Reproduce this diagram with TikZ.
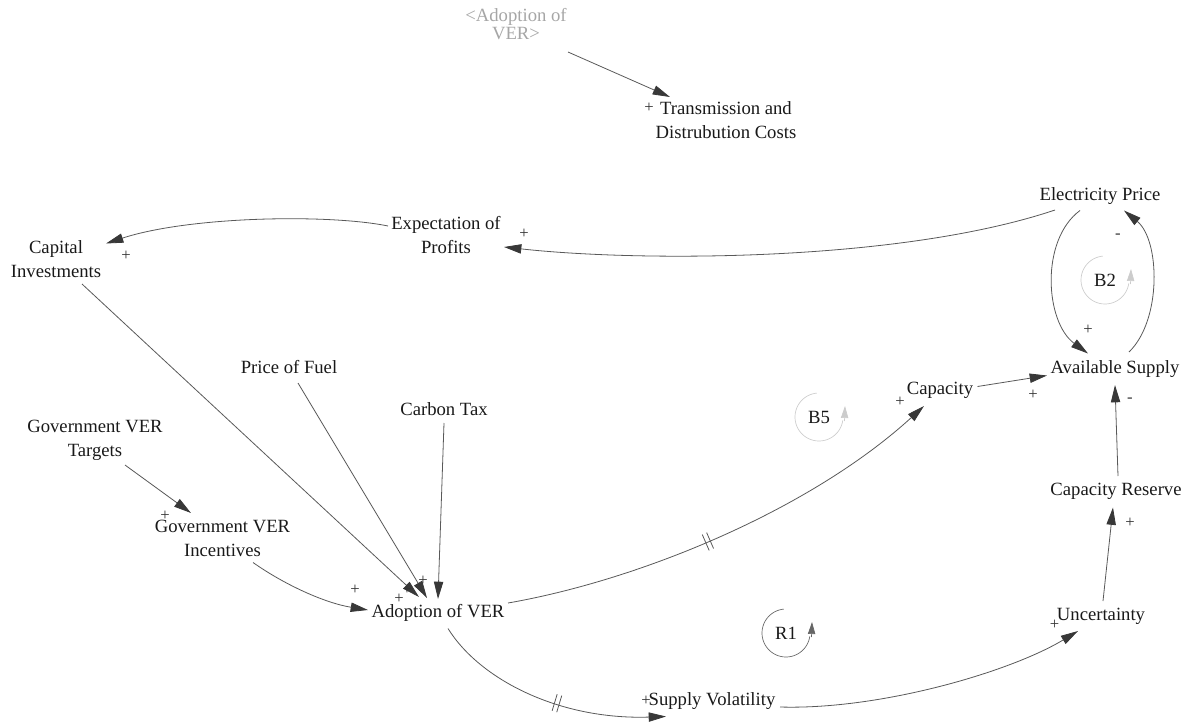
\documentclass[tikz,border=0pt]{standalone}
\usepackage{fontspec}
\setmainfont{Liberation Serif}
\usetikzlibrary{arrows.meta,calc,decorations.markings}

\begin{document}
\begin{tikzpicture}[x=0.75pt,y=-0.75pt,
  var/.style={inner sep=0pt, align=center, text=black!90,
    font=\fontsize{14}{18}\selectfont},
  ghost/.style={inner sep=0pt, align=center, text=black!35,
    font=\fontsize{14}{13.5}\selectfont},
  sign/.style={inner sep=0pt, text=black!80, font=\fontsize{12.5}{13}\selectfont},
  link/.style={draw=black!65, line width=0.6pt,
    -{Triangle[length=13pt,width=7pt,color=black!78]}},
  delay/.style={postaction={decorate}, decoration={markings,
    mark=at position #1 with {\draw[black!65, line width=0.6pt, -]
      (-1.8pt,-6.5pt) -- (-1.8pt,6.5pt) (1.8pt,-6.5pt) -- (1.8pt,6.5pt);}}},
  looplabel/.style={inner sep=0pt, text=black!90, font=\fontsize{14}{18}\selectfont},
  ringtip/.style={-{Triangle[length=9pt,width=5.5pt]}}
]
\useasboundingbox (0,0) rectangle (1189,725);

% variables
\node[ghost] (shadow) at (516,24) {<Adoption of\\VER>};
\node[var] (tdc) at (726,120) {Transmission and\\Distrubution Costs};
\node[var] (elec) at (1100,196) {Electricity Price};
\node[var] (expect) at (446,235) {Expectation of\\Profits};
\node[var] (capital) at (56,259.5) {Capital\\Investments};
\node[var] (fuel) at (289,367.5) {Price of Fuel};
\node[var] (carbon) at (444,409) {Carbon Tax};
\node[var] (gtarget) at (95,440.5) {Government VER\\Targets};
\node[var] (gincent) at (222.5,538) {Government VER\\Incentives};
\node[var] (adopt) at (438,613) {Adoption of VER};
\node[var] (capacity) at (940,390) {Capacity};
\node[var] (avail) at (1115,369) {Available Supply};
\node[var] (reserve) at (1116,491) {Capacity Reserve};
\node[var] (uncert) at (1101,616) {Uncertainty};
\node[var] (volat) at (712,701) {Supply Volatility};

% causal links
\draw[link] ($(shadow)+(52,28)$) -- ($(tdc)+(-56,-23)$);
\draw[link] ($(elec)+(-45,14)$) .. controls (900,262) and (640,262) .. ($(expect)+(58,12)$);
\draw[link] ($(expect)+(-58,-9)$) .. controls (330,214) and (190,216) .. ($(capital)+(50,-16)$);
\draw[link] ($(capital)+(26,24.5)$) -- ($(adopt)+(-19,-16)$);
\draw[link] ($(fuel)+(9,15.5)$) -- ($(adopt)+(-11,-15)$);
\draw[link] ($(carbon)+(0,14)$) -- ($(adopt)+(0,-14)$);
\draw[link] ($(gtarget)+(30,24.5)$) -- ($(gincent)+(-31.5,-25)$);
\draw[link] ($(gincent)+(30.5,24.5)$) .. controls (285,585) and (325,603) .. ($(adopt)+(-70,-3)$);
\draw[link, delay=0.45] ($(adopt)+(70,-10)$) .. controls (640,580) and (810,510) .. ($(capacity)+(-16,16)$);
\draw[link, delay=0.55] ($(adopt)+(10,15.5)$) .. controls (480,680) and (560,720) .. ($(volat)+(-46,15.5)$);
\draw[link] ($(volat)+(68,6)$) .. controls (880,710) and (1010,672) .. ($(uncert)+(-23,15)$);
\draw[link] ($(uncert)+(2,-15)$) -- ($(reserve)+(-3,16.5)$);
\draw[link] ($(reserve)+(2,-15)$) -- ($(avail)+(0,16)$);
\draw[link] ($(capacity)+(37.5,-3.5)$) -- ($(avail)+(-68,6.5)$);
\draw[link] ($(elec)+(-20,14.5)$) .. controls (1040,240) and (1045,322) .. ($(avail)+(-27,-15.5)$);
\draw[link] ($(avail)+(14,-17)$) .. controls (1162,320) and (1160,240) .. ($(elec)+(24,14.5)$);

% polarities
\node[sign] (p1) at (649,108) {+};
\node[sign] (p2) at (524,233.6) {+};
\node[sign] (p3) at (126,256) {+};
\node[sign] (p4) at (165,515.6) {+};
\node[sign] (p5) at (355,590) {+};
\node[sign] (p6) at (399,599) {+};
\node[sign] (p7) at (407,590) {+};
\node[sign] (p8) at (423,581) {+};
\node[sign] (p9) at (900,402) {+};
\node[sign] (p10) at (1033,395) {+};
\node[sign] (p11) at (1088,330) {+};
\node[sign] (p12) at (1118,236) {-};
\node[sign] (p13) at (1130,400) {-};
\node[sign] (p14) at (1130,523) {+};
\node[sign] (p15) at (1054.5,625) {+};
\node[sign] (p16) at (646,701) {+};

% loop identifiers: ring open at the upper right, arrow pointing up on the right
\node[looplabel] (b2) at (1105,280) {B2};
\node[looplabel] (b5) at (819,417) {B5};
\node[looplabel] (r1) at (786,633) {R1};
\foreach \lp/\col in {b2/gray!40, b5/gray!40, r1/black!60}{
  \begin{scope}[shift={(\lp)}]
    \draw[\col, line width=0.5pt] plot[domain=95:352, samples=50, smooth]
      ({24*cos(\x)},{-24*sin(\x)});
    \draw[\col, line width=0.5pt, ringtip] (25.5,4) -- (26,-11);
  \end{scope}
}
\end{tikzpicture}
\end{document}
